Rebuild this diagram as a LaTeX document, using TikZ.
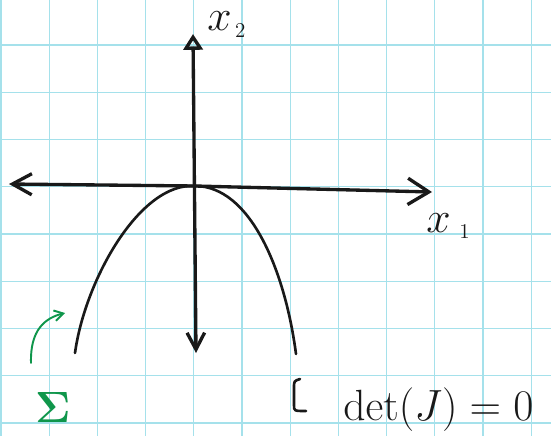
\documentclass[tikz,border=0pt]{standalone}
\usepackage{tikz}
\usetikzlibrary{arrows.meta}
\definecolor{gridcyan}{RGB}{165,225,235}
\definecolor{penblack}{RGB}{25,25,25}
\definecolor{pengreen}{RGB}{15,150,75}

\begin{document}
\begin{tikzpicture}[
  x=0.02cm, y=-0.02cm,
  every node/.style={font=\fontsize{24}{28}\selectfont, inner sep=0pt},
  paper/.style={draw=gridcyan, line width=0.6pt},
  axis/.style={draw=penblack, line width=1.9pt, line cap=round, line join=round},
  curve/.style={draw=penblack, line width=1.5pt, line cap=round},
  marker/.style={draw=pengreen, line width=1.1pt, line cap=round},
  label/.style={text=penblack}
]
\useasboundingbox[fill=white] (0,0) rectangle (551,436);

% Grid paper
\foreach \k in {0,...,11}
  \draw[paper] (1+48.2*\k,0) -- (1+48.2*\k,436);
\foreach \k in {1,...,9}
  \draw[paper] (0,-2.25+47.25*\k) -- (551,-2.25+47.25*\k);

% Axes
\coordinate (O) at (195,186);
\coordinate (xL) at (9,184);
\coordinate (xR) at (432,192);
\coordinate (yT) at (193,34);
\coordinate (yB) at (196,353);
\draw[axis, {Straight Barb[length=11pt,width=12pt]}-{Straight Barb[length=12pt,width=15pt]}] (xL) -- (O) -- (xR);
\draw[axis, {Triangle[open,length=9pt,width=11pt]}-{Straight Barb[length=9.5pt,width=10pt]}] (yT) -- (yB);

% Curve
\coordinate (pL) at (75,353);
\coordinate (pR) at (296,354);
\draw[curve] (pL) .. controls (85,280) and (140,182) .. (O) .. controls (250,186) and (285,270) .. (pR);

% Labels
\node[label, anchor=base west] (x2lbl) at (207,31) {$x_{\scriptscriptstyle\,2}$};
\node[label, anchor=base west] (x1lbl) at (426,232) {$x_{\scriptscriptstyle\hspace{5pt}1}$};
\node[text=pengreen, anchor=base, font=\fontsize{32}{36}\selectfont] (sigma) at (53,422) {$\mathbf{\Sigma}$};
\node[label, anchor=base west, font=\fontsize{25}{30}\selectfont] (detlbl) at (343,420) {$\det(J) = 0$};

% Pointers
\coordinate (gTail) at (31,363);
\coordinate (gTip) at (65,313);
\draw[marker, -{Straight Barb[length=5pt,width=6pt]}] (gTail) .. controls (30,330) and (45,318) .. (gTip);
\coordinate (bTop) at (300,379);
\coordinate (bEnd) at (306,411);
\draw[curve] (bTop) .. controls (294,381) .. (294,388) -- (294,405) .. controls (294,411) .. (bEnd);
\end{tikzpicture}
\end{document}
